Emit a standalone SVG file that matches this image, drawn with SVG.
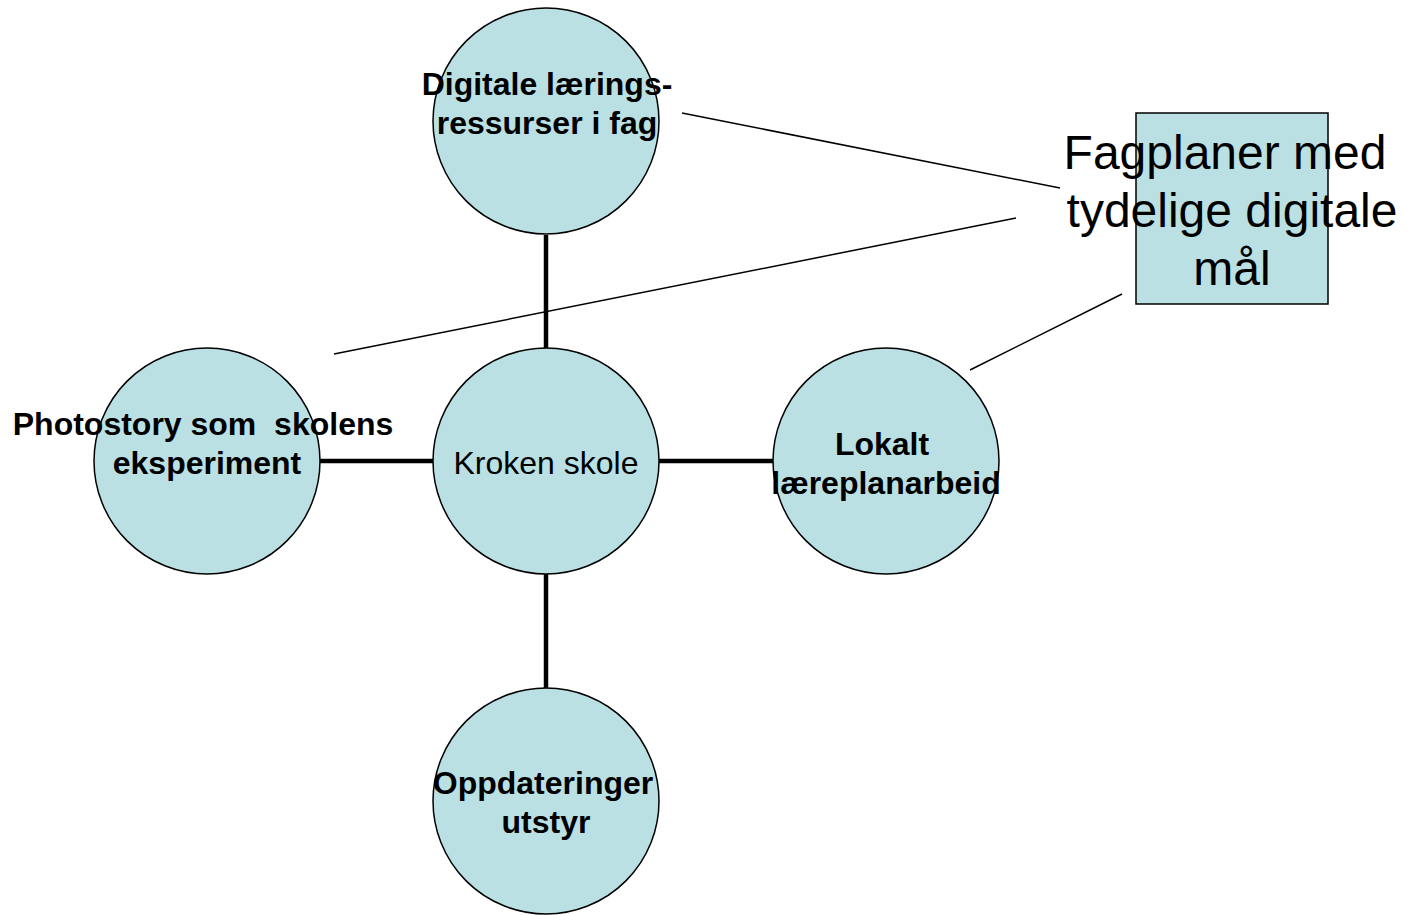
<svg xmlns="http://www.w3.org/2000/svg" width="1416" height="915" viewBox="0 0 1416 915">
<style>
.n{fill:#bae0e4;stroke:#000;stroke-width:1.5}
.b{font-family:"Liberation Sans",Arial,sans-serif;font-weight:bold;font-size:32px;text-anchor:middle;fill:#000}
.r{font-family:"Liberation Sans",Arial,sans-serif;font-size:32px;text-anchor:middle;fill:#000}
.big{font-family:"Liberation Sans",Arial,sans-serif;font-size:48px;text-anchor:middle;fill:#000}
.thick{stroke:#000;stroke-width:4.5;fill:none}
.thin{stroke:#000;stroke-width:1.5;fill:none}
</style>
<rect width="1416" height="915" fill="#fff"/>
<g id="connectors">
<line class="thick" x1="546" y1="235" x2="546" y2="348"/>
<line class="thick" x1="320" y1="461" x2="433" y2="461"/>
<line class="thick" x1="659" y1="461" x2="773" y2="461"/>
<line class="thick" x1="546" y1="574" x2="546" y2="688"/>
<line class="thin" x1="682" y1="113" x2="1060" y2="188"/>
<line class="thin" x1="1016" y1="218" x2="334" y2="354"/>
<line class="thin" x1="1122" y1="294" x2="970" y2="370"/>
</g>
<g id="top">
<circle class="n" cx="546" cy="121" r="113"/>
<text class="b" x="547" y="95">Digitale lærings-</text>
<text class="b" x="547" y="134">ressurser i fag</text>
</g>
<g id="center">
<circle class="n" cx="546" cy="461" r="113"/>
<text class="r" x="546" y="474">Kroken skole</text>
</g>
<g id="left">
<circle class="n" cx="207" cy="461" r="113"/>
<text class="b" x="203" y="435" xml:space="preserve">Photostory som  skolens</text>
<text class="b" x="207" y="474">eksperiment</text>
</g>
<g id="right">
<circle class="n" cx="886" cy="461" r="113"/>
<text class="b" x="882" y="455">Lokalt</text>
<text class="b" x="886" y="494">læreplanarbeid</text>
</g>
<g id="bottom">
<circle class="n" cx="546" cy="801" r="113"/>
<text class="b" x="543" y="794">Oppdateringer</text>
<text class="b" x="546" y="833">utstyr</text>
</g>
<g id="box">
<rect class="n" x="1136" y="113" width="192" height="191"/>
<text class="big" x="1225" y="169">Fagplaner med</text>
<text class="big" x="1232" y="227">tydelige digitale</text>
<text class="big" x="1232" y="285">mål</text>
</g>
</svg>
